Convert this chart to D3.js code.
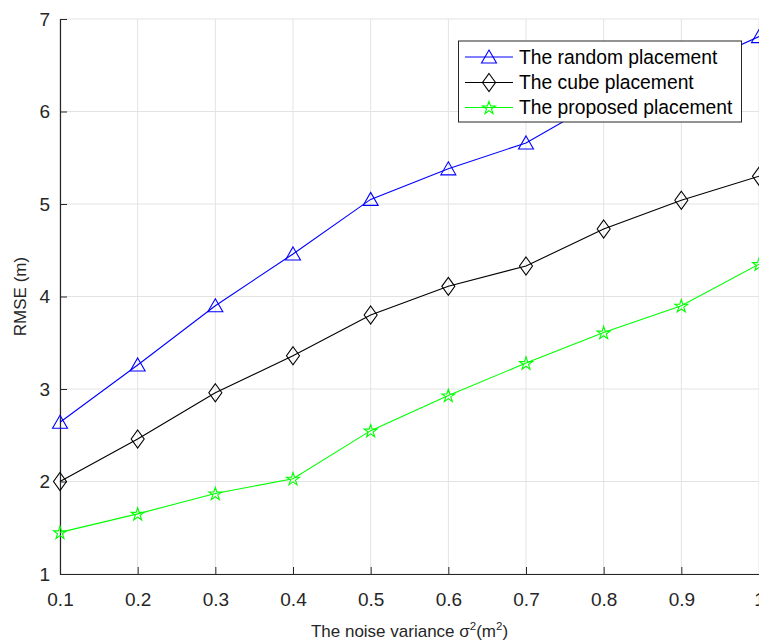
<!DOCTYPE html>
<html>
<head>
<meta charset="utf-8">
<script src="https://cdn.jsdelivr.net/npm/d3@7"></script>
<style>
  html, body { margin: 0; padding: 0; background: #fff; overflow: hidden; }
  svg { display: block; font-family: "Liberation Sans", Arial, Helvetica, sans-serif; }
</style>
</head>
<body>
<svg id="chart" width="759" height="642"></svg>
<script>
// ---- Data ----
const noiseVariance = [0.1, 0.2, 0.3, 0.4, 0.5, 0.6, 0.7, 0.8, 0.9, 1.0];
const randomPlacement   = [2.64, 3.26, 3.90, 4.46, 5.05, 5.38, 5.66, 6.14, 6.43, 6.81];
const cubePlacement     = [2.00, 2.46, 2.96, 3.36, 3.80, 4.11, 4.33, 4.73, 5.04, 5.30];
const proposedPlacement = [1.45, 1.65, 1.87, 2.03, 2.55, 2.93, 3.28, 3.61, 3.90, 4.35];
const seriesNames = ["The random placement", "The cube placement", "The proposed placement"];
const xTickValues = [0.1, 0.2, 0.3, 0.4, 0.5, 0.6, 0.7, 0.8, 0.9, 1.0];
const yTickValues = [1, 2, 3, 4, 5, 6, 7];

(function () {
// ---- Layout ----
const mLeft = 60, mRight = 759, mTop = 19, mBottom = 574;
const svg = d3.select("#chart");

const x = d3.scaleLinear().domain([0.1, 1.0]).range([mLeft, mRight]);
const y = d3.scaleLinear().domain([1, 7]).range([mBottom, mTop]);

const axisColor = "#262626";
const gridColor = "#e3e3e3";

// grid
const grid = svg.append("g");
grid.selectAll("line.vx").data(xTickValues).enter().append("line")
  .attr("x1", d => x(d)).attr("x2", d => x(d))
  .attr("y1", mTop).attr("y2", mBottom)
  .attr("stroke", gridColor).attr("stroke-width", 1);
grid.selectAll("line.hy").data(yTickValues).enter().append("line")
  .attr("x1", mLeft).attr("x2", mRight)
  .attr("y1", d => y(d)).attr("y2", d => y(d))
  .attr("stroke", gridColor).attr("stroke-width", 1);

// axes
const fmtX = d => (d === 1 ? "1" : d3.format(".1f")(d));
const xAxis = svg.append("g")
  .attr("transform", `translate(0,${mBottom})`)
  .call(d3.axisBottom(x).tickValues(xTickValues).tickFormat(fmtX)
        .tickSizeInner(-7).tickSizeOuter(0).tickPadding(19));
const yAxis = svg.append("g")
  .attr("transform", `translate(${mLeft},0)`)
  .call(d3.axisLeft(y).tickValues(yTickValues).tickFormat(d3.format("d"))
        .tickSizeInner(-7).tickSizeOuter(0).tickPadding(10));

[xAxis, yAxis].forEach(g => {
  g.select(".domain").attr("stroke", axisColor).attr("stroke-width", 1.2);
  g.selectAll(".tick line").attr("stroke", axisColor).attr("stroke-width", 1);
  g.selectAll(".tick text").attr("fill", axisColor)
    .style("font-size", "19px")
    .style("font-family", '"Liberation Sans", Arial, Helvetica, sans-serif');
});

// axis labels
svg.append("text")
  .attr("x", (mLeft + mRight) / 2).attr("y", 637)
  .attr("text-anchor", "middle")
  .attr("fill", axisColor)
  .style("font-size", "17px")
  .html('The noise variance σ<tspan dy="-7" font-size="11.5px">2</tspan><tspan dy="7">(m</tspan><tspan dy="-7" font-size="11.5px">2</tspan><tspan dy="7">)</tspan>');

svg.append("text")
  .attr("transform", `translate(26,${(mTop + mBottom) / 2}) rotate(-90)`)
  .attr("text-anchor", "middle")
  .attr("fill", axisColor)
  .style("font-size", "17px")
  .text("RMSE (m)");

// marker shapes
function trianglePath() { return "M0,-7L7.5,6L-7.5,6Z"; }
function diamondPath() { return "M0,-9L6.5,0L0,9L-6.5,0Z"; }
function starPath() {
  const R = 6.8, r = R * 0.382;
  const pts = [];
  for (let i = 0; i < 10; i++) {
    const a = -Math.PI / 2 + i * Math.PI / 5;
    const rad = i % 2 === 0 ? R : r;
    pts.push([rad * Math.cos(a), rad * Math.sin(a) + 0.6]);
  }
  return "M" + pts.map(p => p[0].toFixed(2) + "," + p[1].toFixed(2)).join("L") + "Z";
}

const series = [
  { name: seriesNames[0], values: randomPlacement, color: "#0000ff", marker: trianglePath() },
  { name: seriesNames[1], values: cubePlacement, color: "#000000", marker: diamondPath() },
  { name: seriesNames[2], values: proposedPlacement, color: "#00ff00", marker: starPath() }
];

const line = d3.line().x(d => x(d[0])).y(d => y(d[1]));

series.forEach(s => {
  const pts = noiseVariance.map((v, i) => [v, s.values[i]]);
  svg.append("path")
    .attr("d", line(pts))
    .attr("fill", "none")
    .attr("stroke", s.color)
    .attr("stroke-width", 1.1);
  svg.append("g").selectAll("path").data(pts).enter().append("path")
    .attr("transform", d => `translate(${x(d[0])},${y(d[1])})`)
    .attr("d", s.marker)
    .attr("fill", "none")
    .attr("stroke", s.color)
    .attr("stroke-width", 1.1);
});

// legend
const lg = svg.append("g");
const lx0 = 458.5, ly0 = 41, lw = 283, lh = 81;
lg.append("rect")
  .attr("x", lx0).attr("y", ly0).attr("width", lw).attr("height", lh)
  .attr("fill", "#ffffff").attr("stroke", axisColor).attr("stroke-width", 1);
const rowY = [57, 82.5, 107.5];
series.forEach((s, i) => {
  const ry = rowY[i];
  lg.append("line")
    .attr("x1", 465).attr("x2", 513).attr("y1", ry).attr("y2", ry)
    .attr("stroke", s.color).attr("stroke-width", 1.1);
  lg.append("path")
    .attr("transform", `translate(489,${ry})`)
    .attr("d", s.marker)
    .attr("fill", "none").attr("stroke", s.color).attr("stroke-width", 1.1);
  lg.append("text")
    .attr("x", 519).attr("y", ry).attr("dy", "0.35em")
    .attr("fill", "#000")
    .style("font-size", "19.3px")
    .text(s.name);
});
})();
</script>
</body>
</html>
